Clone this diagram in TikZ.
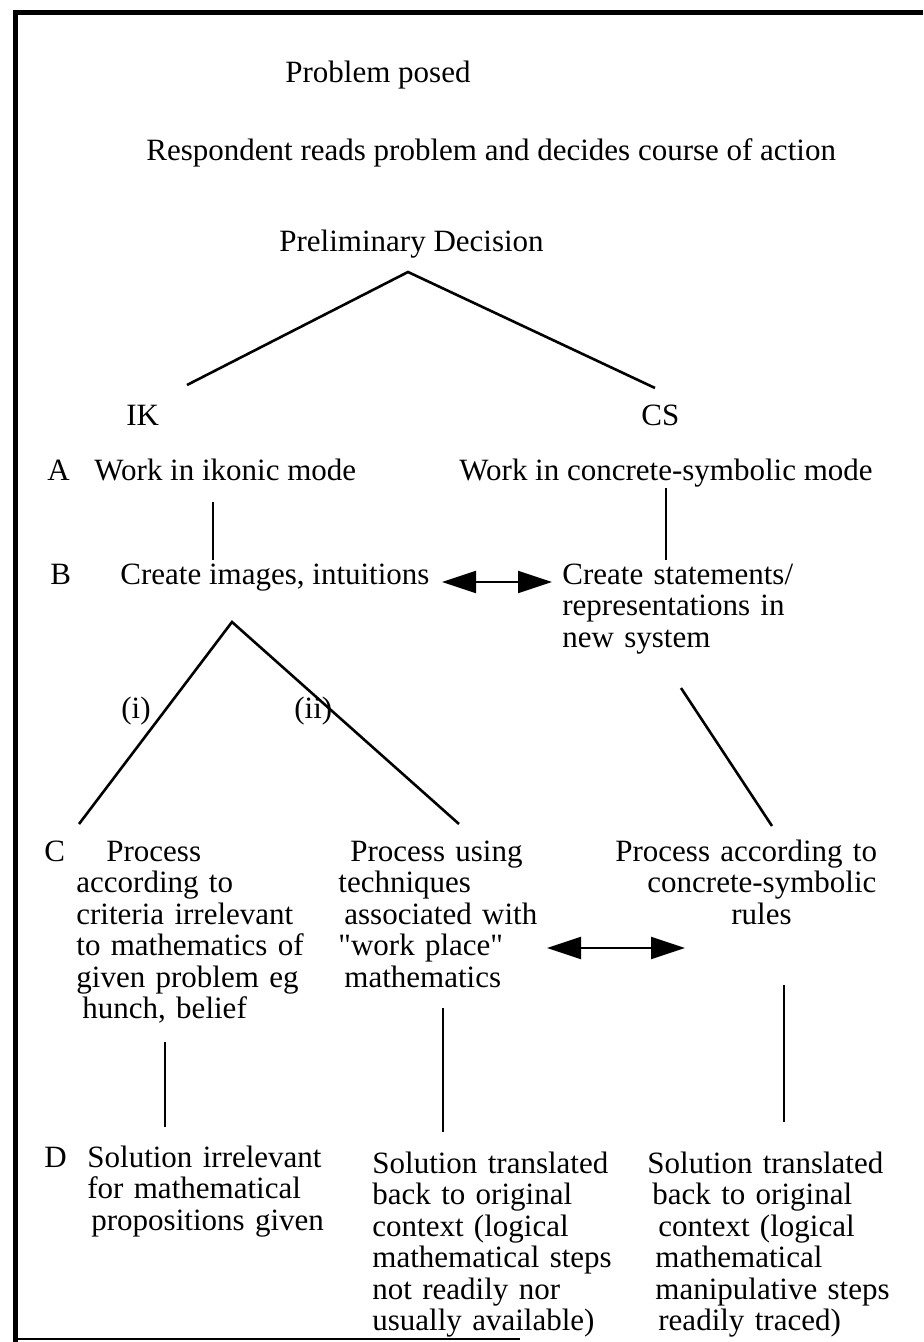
\documentclass[tikz,border=0pt]{standalone}
\usepackage{fontspec}
\setmainfont[Ligatures=TeXOff]{Liberation Serif}
\usetikzlibrary{arrows.meta}
\begin{document}
\begin{tikzpicture}[x=0.5pt,y=-0.5pt,
  txt/.style={anchor=base west,inner sep=0pt,font=\fontsize{15.5pt}{15.75pt}\selectfont},
  blk/.style={txt,text width=170pt,align=left},
  ln/.style={line width=1.3pt},
  dbl/.style={line width=1.1pt,{Triangle[length=17pt,width=11pt]}-{Triangle[length=17pt,width=11pt]}}]
\useasboundingbox (0,0) rectangle (923,1342);
\draw[line width=2.5pt] (923,13) -- (15,13) -- (15,1342);
\draw[line width=1pt] (15,1339) -- (520,1339);
\node[txt] (posed) at (285,83) {Problem posed};
\node[txt] (reads) at (146,161) {Respondent reads problem and decides course of action};
\node[txt] (prelim) at (279,252) {Preliminary Decision};
\node[txt] (ik) at (126,425) {IK};
\node[txt] (cs) at (641,425) {CS};
\node[txt] (la) at (47,480) {A};
\node[txt] (ikon) at (94,480) {Work in ikonic mode};
\node[txt] (conc) at (459,480) {Work in concrete-symbolic mode};
\node[txt] (lb) at (50,584) {B};
\node[txt] (img) at (120,584) {Create images, intuitions};
\node[blk] (stat) at (562,584) {Create statements/\\representations in\\new system};
\node[txt] (ri) at (121,718) {(i)};
\node[txt] (rii) at (294,718) {(ii)};
\node[txt] (lc) at (44,861) {C};
\node[blk] (crit) at (76,861) {\hspace*{15pt}Process\\according to\\criteria irrelevant\\to mathematics of\\given problem eg\\\hspace*{3pt}hunch, belief};
\node[blk] (tech) at (338,861) {\hspace*{6pt}Process using\\techniques\\\hspace*{3pt}associated with\\"work place"\\\hspace*{3pt}mathematics};
\node[blk] (csr) at (615,861) {Process according to\\\hspace*{16pt}concrete-symbolic\\\hspace*{58pt}rules};
\node[txt] (ld) at (44,1167) {D};
\node[blk] (irr) at (87,1167) {Solution irrelevant\\for mathematical\\\hspace*{2pt}propositions given};
\node[blk] (tmid) at (372,1173) {Solution translated\\back to original\\context (logical\\mathematical steps\\not readily nor\\usually available)};
\node[blk] (trgt) at (647,1173) {Solution translated\\\hspace*{2.5pt}back to original\\\hspace*{5.5pt}context (logical\\\hspace*{4pt}mathematical\\\hspace*{4pt}manipulative steps\\\hspace*{5.5pt}readily traced)};
\coordinate (pdtop) at (408,272);
\coordinate (ikend) at (187,385);
\coordinate (csend) at (655,388);
\coordinate (atop) at (213,502);
\coordinate (abot) at (213,560);
\coordinate (cstop) at (666,488);
\coordinate (csbot) at (666,560);
\coordinate (btop) at (232,622);
\coordinate (iend) at (79,824);
\coordinate (iiend) at (459,824);
\coordinate (sttop) at (681,688);
\coordinate (stend) at (772,826);
\coordinate (dtop) at (165,1042);
\coordinate (dbot) at (165,1127);
\coordinate (mtop) at (443,1008);
\coordinate (mbot) at (443,1132);
\coordinate (rtop) at (784,985);
\coordinate (rbot) at (784,1122);
\coordinate (bl) at (442,582);
\coordinate (br) at (552,582);
\coordinate (cl) at (547,948);
\coordinate (cr) at (685,948);
\draw[ln] (ikend) -- (pdtop) -- (csend);
\draw[ln] (atop) -- (abot);
\draw[ln] (cstop) -- (csbot);
\draw[ln] (iend) -- (btop) -- (iiend);
\draw[ln] (sttop) -- (stend);
\draw[ln] (dtop) -- (dbot);
\draw[ln] (mtop) -- (mbot);
\draw[ln] (rtop) -- (rbot);
\draw[dbl] (bl) -- (br);
\draw[dbl] (cl) -- (cr);
\end{tikzpicture}
\end{document}
